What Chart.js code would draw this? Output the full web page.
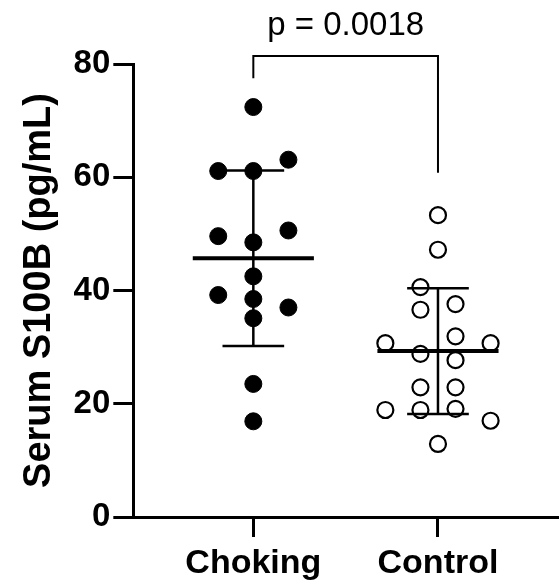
<!DOCTYPE html>
<html><head><meta charset="utf-8">
<script src="https://cdn.jsdelivr.net/npm/chart.js@4.4.1/dist/chart.umd.min.js"></script>
<style>html,body{margin:0;padding:0;background:#fff}</style>
</head><body>
<canvas id="c" width="560" height="580" style="width:560px;height:580px;display:block"></canvas>
<script>
// ---- data ----
const categories = ['Choking', 'Control'];
const chokingValues  = [72.4, 61.1, 61.1, 63.1, 49.6, 50.6, 48.5, 42.5, 39.2, 38.5, 37.0, 35.1, 23.5, 16.9];
const chokingColumns = [0, -1, 0, 1, -1, 1, 0, 0, -1, 0, 1, 0, 0, 0];
const controlValues  = [53.3, 47.2, 40.6, 36.6, 37.6, 30.7, 31.9, 30.7, 28.8, 27.7, 22.9, 22.9, 18.9, 18.9, 19.1, 17.0, 12.9];
const controlColumns = [0, 0, -0.5, -0.5, 0.5, -1.5, 0.5, 1.5, -0.5, 0.5, -0.5, 0.5, -1.5, -0.5, 0.5, 1.5, 0];
const groupMeans = [45.7, 29.3];
const groupSD    = [15.5, 11.1];
const yTicks = [0, 20, 40, 60, 80];
const pLabel = 'p = 0.0018';
const bracketTop = 81.4;
const bracketLegEnds = [77.5, 60.8];

// ---- styling constants ----
const FONT = '"Liberation Sans", Arial, Helvetica, sans-serif';
const COL = 0.19;        // jitter column spacing (x units)
const MEAN_HALF = 0.328; // half-width of mean line
const CAP_HALF = 0.167;  // half-width of SD caps

const pts = (vals, cols, gi) => vals.map((v, i) => ({ x: gi + cols[i] * COL, y: v }));

const meanData = [];
const sdData = [];
groupMeans.forEach((m, gi) => {
  const s = groupSD[gi];
  meanData.push({ x: gi - MEAN_HALF, y: m }, { x: gi + MEAN_HALF, y: m }, { x: gi + 0.5, y: null });
  sdData.push({ x: gi - CAP_HALF, y: m + s }, { x: gi + CAP_HALF, y: m + s }, { x: gi + 0.4, y: null },
              { x: gi, y: m + s }, { x: gi, y: m - s }, { x: gi + 0.4, y: null },
              { x: gi - CAP_HALF, y: m - s }, { x: gi + CAP_HALF, y: m - s }, { x: gi + 0.5, y: null });
});
const bracketData = [
  { x: 0, y: bracketLegEnds[0] }, { x: 0, y: bracketTop },
  { x: 1, y: bracketTop }, { x: 1, y: bracketLegEnds[1] }
];

const pPlugin = {
  id: 'pLabel',
  afterDatasetsDraw(chart) {
    const { ctx, scales: { x, y } } = chart;
    ctx.save();
    ctx.font = '33px ' + FONT;
    ctx.fillStyle = '#000';
    ctx.textAlign = 'center';
    ctx.textBaseline = 'alphabetic';
    ctx.fillText(pLabel, x.getPixelForValue(0.5), y.getPixelForValue(bracketTop) - 21);
    ctx.restore();
  }
};

const lineDs = (data, w, extra) => Object.assign({
  data, showLine: true, borderColor: '#000', borderWidth: w, pointRadius: 0,
  spanGaps: false, fill: false, borderCapStyle: 'butt', tension: 0
}, extra || {});

new Chart(document.getElementById('c'), {
  type: 'scatter',
  data: {
    datasets: [
      lineDs(sdData, 2.5),
      lineDs(meanData, 4),
      lineDs(bracketData, 2, { clip: false, borderJoinStyle: 'miter' }),
      { data: pts(chokingValues, chokingColumns, 0), pointRadius: 8.5, pointBackgroundColor: '#000',
        pointBorderColor: '#000', pointBorderWidth: 1, showLine: false },
      { data: pts(controlValues, controlColumns, 1), pointRadius: 8, pointBackgroundColor: 'rgba(0,0,0,0)',
        pointBorderColor: '#000', pointBorderWidth: 2.2, showLine: false }
    ]
  },
  options: {
    responsive: false,
    animation: false,
    devicePixelRatio: 1,
    layout: { autoPadding: false, padding: { top: 64, right: 2, bottom: 0, left: 17 } },
    plugins: { legend: { display: false }, tooltip: { enabled: false } },
    scales: {
      x: {
        type: 'linear', min: -0.65, max: 1.65,
        afterBuildTicks(axis) { axis.ticks = categories.map((c, i) => ({ value: i })); },
        afterFit(axis) { axis.height = 63; },
        ticks: {
          callback: (v) => categories[v] ?? '',
          font: { family: FONT, size: 34, weight: 'bold' }, color: '#000',
          padding: 6, maxRotation: 0, autoSkip: false
        },
        grid: { drawOnChartArea: false, drawTicks: true, tickLength: 20, tickWidth: 3, tickColor: '#000' },
        border: { display: true, color: '#000', width: 3 }
      },
      y: {
        min: 0, max: 80,
        afterBuildTicks(axis) { axis.ticks = yTicks.map(v => ({ value: v })); },
        ticks: { font: { family: FONT, size: 33, weight: 'bold' }, color: '#000', padding: 3 },
        grid: { drawOnChartArea: false, drawTicks: true, tickLength: 20, tickWidth: 3, tickColor: '#000' },
        border: { display: true, color: '#000', width: 3 },
        title: { display: true, text: 'Serum S100B (pg/mL)', color: '#000',
                 font: { family: FONT, size: 38, weight: 'bold' }, padding: { top: 0, bottom: 8 } }
      }
    }
  },
  plugins: [pPlugin]
});
</script>
</body></html>
